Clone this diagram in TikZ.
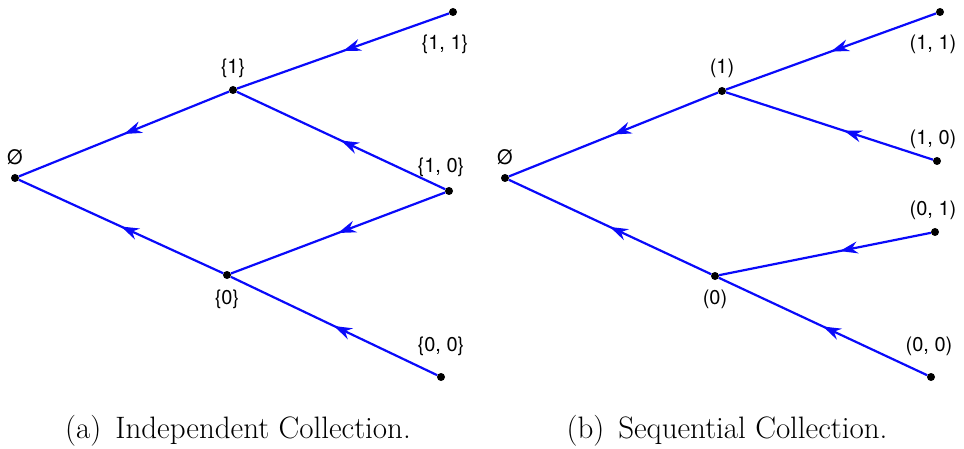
\documentclass[tikz,border=0pt]{standalone}
\usepackage{fontspec}
\newfontfamily\lblfont{TeX Gyre Heros}
\usetikzlibrary{arrows.meta,decorations.markings}
\definecolor{edgeblue}{RGB}{10,10,250}
\tikzset{
  x=1pt,y=-1pt,
  dot/.style={circle,fill=black,inner sep=0pt,minimum size=8pt},
  lbl/.style={font=\lblfont\fontsize{20}{22}\selectfont,inner sep=0pt},
  captext/.style={font=\fontsize{31}{34}\selectfont,inner sep=0pt,anchor=base},
  branch/.style={draw=edgeblue,line width=2.2pt,postaction={decorate},
    decoration={markings,mark=at position #1 with {\arrow{Stealth[length=18pt,width=12pt]}}}},
  branch/.default=0.5,
}
\begin{document}
\begin{tikzpicture}
\useasboundingbox (0,0) rectangle (964,449);
% left tree
\node[dot] (a0) at (15,178) {};
\node[dot] (a1) at (233,90) {};
\node[dot] (a2) at (227,275) {};
\node[dot] (a11) at (453,12) {};
\node[dot] (a10) at (449,191) {};
\node[dot] (a00) at (441,377) {};
\draw[branch] (a1) -- (a0);
\draw[branch] (a2) -- (a0);
\draw[branch] (a11) -- (a1);
\draw[branch] (a10) -- (a1);
\draw[branch] (a10) -- (a2);
\draw[branch] (a00) -- (a2);
\node[lbl] (la0) at (15,157) {Ø};
\node[lbl] (la1) at (233,68) {\{1\}};
\node[lbl] (la2) at (227,299) {\{0\}};
\node[lbl] (la11) at (445,44) {\{1, 1\}};
\node[lbl] (la10) at (441,167) {\{1, 0\}};
\node[lbl] (la00) at (441,346) {\{0, 0\}};
% right tree
\node[dot] (b0) at (505,178) {};
\node[dot] (b1) at (722,91) {};
\node[dot] (b2) at (715,276) {};
\node[dot] (b11) at (940,12) {};
\node[dot] (b10) at (937,161) {};
\node[dot] (b01) at (935,232) {};
\node[dot] (b00) at (931,377) {};
\draw[branch] (b1) -- (b0);
\draw[branch] (b2) -- (b0);
\draw[branch] (b11) -- (b1);
\draw[branch=0.43] (b10) -- (b1);
\draw[branch=0.43] (b01) -- (b2);
\draw[branch] (b00) -- (b2);
\node[lbl] (lb0) at (505,157) {Ø};
\node[lbl] (lb1) at (722,68) {(1)};
\node[lbl] (lb2) at (715,299) {(0)};
\node[lbl] (lb11) at (933,44) {(1, 1)};
\node[lbl] (lb10) at (933,139) {(1, 0)};
\node[lbl] (lb01) at (933,210) {(0, 1)};
\node[lbl] (lb00) at (929,346) {(0, 0)};
% captions
\node[captext] (capa) at (238,438) {(a)\hspace{0.15em} Independent Collection.};
\node[captext] (capb) at (727,438) {(b)\hspace{0.15em} Sequential Collection.};
\end{tikzpicture}
\end{document}
